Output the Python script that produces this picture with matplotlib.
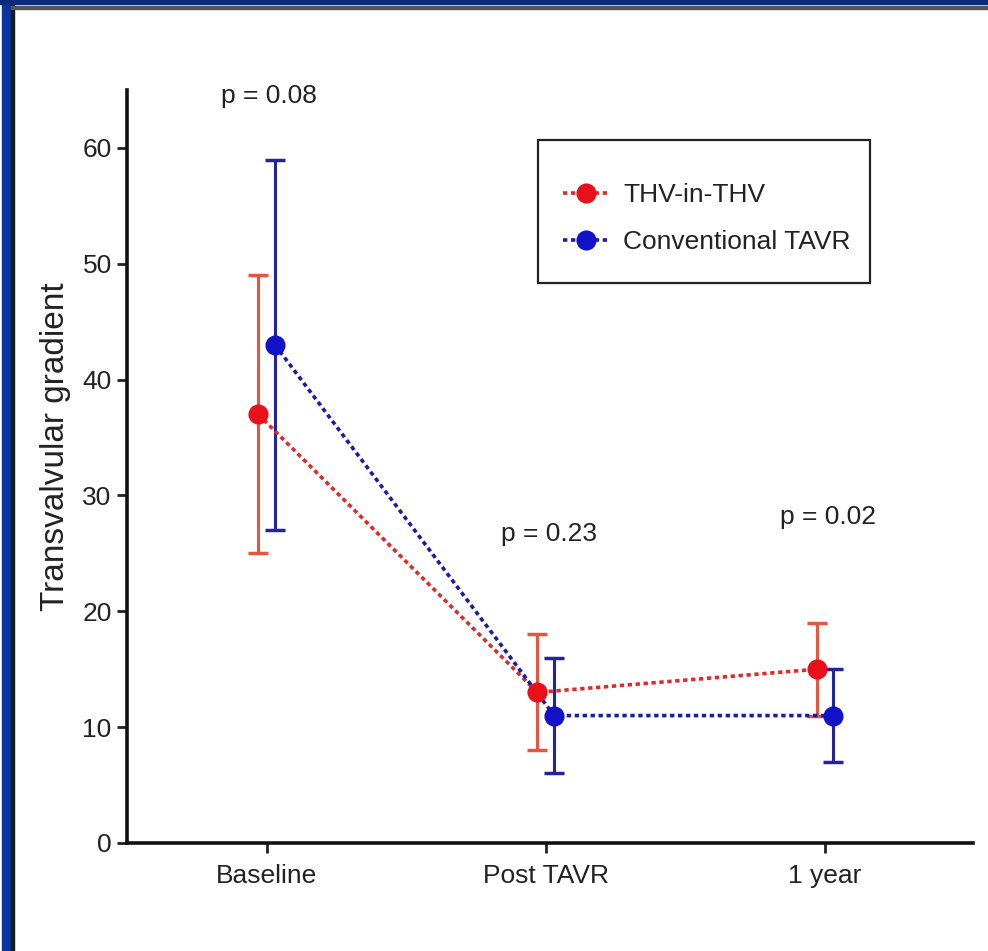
import matplotlib.pyplot as plt
from matplotlib.patches import Rectangle
from matplotlib.lines import Line2D

plt.rcParams['font.family'] = ['Liberation Sans', 'DejaVu Sans']

# dados
timepoints = ['Baseline', 'Post TAVR', '1 year']
thv_mean = [37, 13, 15]
thv_low = [25, 8, 11]
thv_high = [49, 18, 19]
conv_mean = [43, 11, 11]
conv_low = [27, 6, 7]
conv_high = [59, 16, 15]
p_labels = ['p = 0.08', 'p = 0.23', 'p = 0.02']
p_y = [64.5, 26.7, 28.1]

fig = plt.figure(figsize=(9.88, 9.51), dpi=100)
ax = fig.add_axes([127/988, 1 - 843/951, (973-127)/988, (843-90)/951])

pos = list(range(len(timepoints)))
off = 0.03
traco = (0, (1.2, 1.0))

def desenha(medias, baixo, alto, deslocamento, cor_ponto, cor_barra, cor_linha, nome):
    xs = [p + deslocamento for p in pos]
    err = [[m - b for m, b in zip(medias, baixo)], [a - m for m, a in zip(medias, alto)]]
    ax.errorbar(xs, medias, yerr=err, fmt='none', ecolor=cor_barra, elinewidth=2.2,
                capsize=7.5, capthick=2.5, zorder=2)
    ax.plot(xs, medias, linestyle=traco, linewidth=2.6, color=cor_linha, zorder=3)
    ax.plot(xs, medias, 'o', markersize=13.5, color=cor_ponto, zorder=4, label=nome)

desenha(thv_mean, thv_low, thv_high, -off, '#e8101a', '#e6553f', '#e02a2a', 'THV-in-THV')
desenha(conv_mean, conv_low, conv_high, off, '#1212c8', '#23239a', '#1c1ca0', 'Conventional TAVR')

for p, txt, y in zip(pos, p_labels, p_y):
    ax.text(p + 0.01, y, txt, ha='center', va='center', fontsize=19, color='#222222', clip_on=False)

ax.set_xlim(-0.5, 2.53)
ax.set_ylim(0, 65)
ax.set_xticks(pos)
ax.set_xticklabels(timepoints)
ax.set_yticks(range(0, 61, 10))
ax.tick_params(axis='both', labelsize=19, colors='#222222', width=2, length=7, direction='out')
ax.tick_params(axis='x', pad=8)
ax.tick_params(axis='y', pad=4)
ax.set_ylabel('Transvalvular gradient', fontsize=24, color='#222222')
ax.yaxis.set_label_coords(-0.066, 0.526)

for s in ['top', 'right']:
    ax.spines[s].set_visible(False)
for s in ['left', 'bottom']:
    ax.spines[s].set_linewidth(2.6)
    ax.spines[s].set_color('#111111')

# legenda com moldura propria
ax.add_patch(Rectangle((0.486, 0.744), 0.392, 0.189, transform=ax.transAxes, fill=False,
                       edgecolor='#222222', linewidth=1.6, clip_on=False, zorder=5))
handles = [
    Line2D([], [], color='#e02a2a', linestyle=traco, linewidth=2.6,
           marker='o', markersize=13.5, markerfacecolor='#e8101a', markeredgecolor='#e8101a'),
    Line2D([], [], color='#1c1ca0', linestyle=traco, linewidth=2.6,
           marker='o', markersize=13.5, markerfacecolor='#1212c8', markeredgecolor='#1212c8'),
]
leg = ax.legend(handles, ['THV-in-THV', 'Conventional TAVR'], loc='upper left',
                bbox_to_anchor=(0.515, 0.876), fontsize=19, frameon=False,
                handlelength=1.8, handletextpad=0.5, labelspacing=0.85, borderpad=0,
                borderaxespad=0)
for t in leg.get_texts():
    t.set_color('#222222')

# moldura azul da imagem
fig.patches.append(Rectangle((2/988, 0), 9/988, 1, transform=fig.transFigure, color='#0a35a0', zorder=10))
fig.patches.append(Rectangle((11/988, 0), 2.5/988, 1 - 5/951, transform=fig.transFigure, color='#1a1a1a', zorder=10))
fig.patches.append(Rectangle((0, 1 - 3.5/951), 1, 3.5/951, transform=fig.transFigure, color='#0a2a7a', zorder=10))
fig.patches.append(Rectangle((11/988, 1 - 8.5/951), 1, 3/951, transform=fig.transFigure, color='#555555', zorder=10))

fig.savefig('out.png', dpi=100, facecolor='white')
